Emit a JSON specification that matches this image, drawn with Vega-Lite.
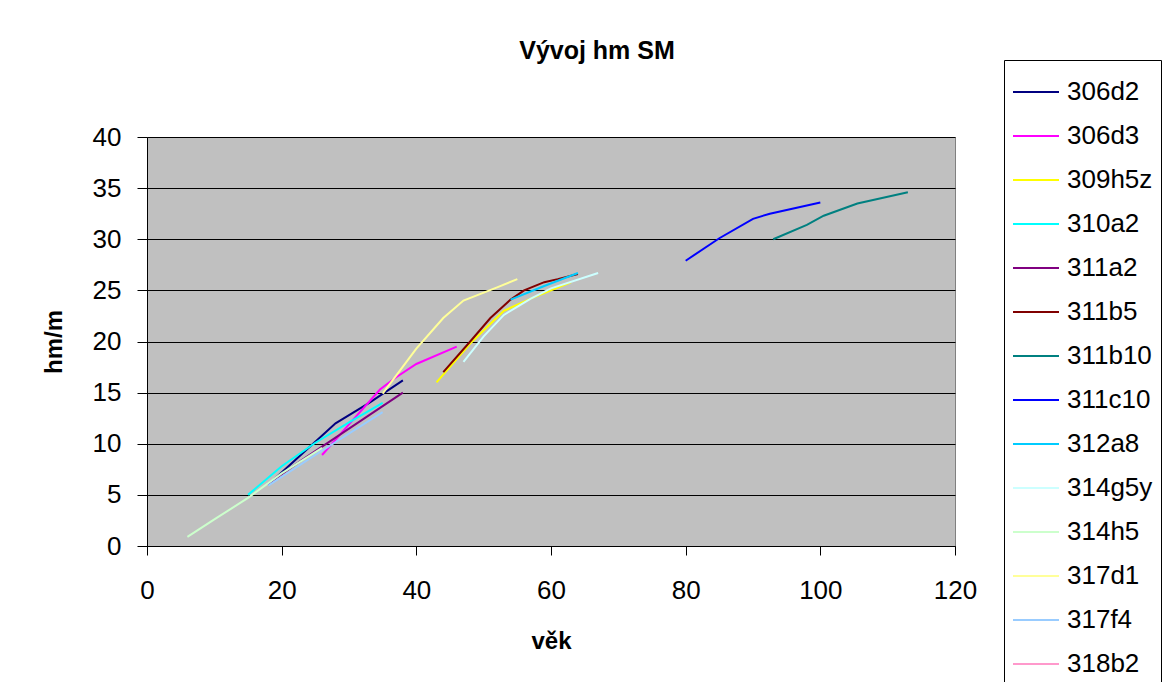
{
  "$schema": "https://vega.github.io/schema/vega-lite/v6.json",
  "width": 808,
  "height": 409,
  "autosize": {"type": "none"},
  "padding": {"left": 147, "top": 137, "right": 219, "bottom": 136},
  "background": "white",
  "title": {
    "text": "Vývoj hm SM",
    "anchor": "middle",
    "frame": "group",
    "dx": 46,
    "offset": -4,
    "font": "Liberation Sans",
    "fontSize": 25,
    "fontWeight": "bold",
    "color": "black"
  },
  "data": {
    "values": [
      {"s": "306d2", "v": 18, "h": 6.0},
      {"s": "306d2", "v": 23, "h": 9.0},
      {"s": "306d2", "v": 28, "h": 12.0},
      {"s": "306d2", "v": 33, "h": 14.0},
      {"s": "306d2", "v": 38, "h": 16.2},
      {"s": "306d3", "v": 26, "h": 8.9},
      {"s": "306d3", "v": 30, "h": 11.9},
      {"s": "306d3", "v": 34.6, "h": 15.3},
      {"s": "306d3", "v": 37, "h": 16.5},
      {"s": "306d3", "v": 40, "h": 17.8},
      {"s": "306d3", "v": 46, "h": 19.5},
      {"s": "309h5z", "v": 43, "h": 16.0},
      {"s": "309h5z", "v": 48, "h": 19.8},
      {"s": "309h5z", "v": 53, "h": 23.0},
      {"s": "309h5z", "v": 57, "h": 24.2},
      {"s": "309h5z", "v": 60, "h": 25.0},
      {"s": "309h5z", "v": 63, "h": 25.8},
      {"s": "310a2", "v": 15, "h": 5.0},
      {"s": "310a2", "v": 20, "h": 7.8},
      {"s": "310a2", "v": 25, "h": 10.1},
      {"s": "310a2", "v": 30, "h": 12.1},
      {"s": "310a2", "v": 35, "h": 14.0},
      {"s": "311a2", "v": 18, "h": 6.1},
      {"s": "311a2", "v": 23, "h": 8.4},
      {"s": "311a2", "v": 28, "h": 10.6},
      {"s": "311a2", "v": 33, "h": 12.8},
      {"s": "311a2", "v": 38, "h": 15.0},
      {"s": "311b5", "v": 44, "h": 17.0},
      {"s": "311b5", "v": 48, "h": 20.0},
      {"s": "311b5", "v": 51, "h": 22.3},
      {"s": "311b5", "v": 54, "h": 24.1},
      {"s": "311b5", "v": 56, "h": 25.0},
      {"s": "311b5", "v": 59, "h": 25.8},
      {"s": "311b5", "v": 61, "h": 26.1},
      {"s": "311b5", "v": 64, "h": 26.6},
      {"s": "311b10", "v": 93, "h": 30.0},
      {"s": "311b10", "v": 98, "h": 31.4},
      {"s": "311b10", "v": 100.5, "h": 32.3},
      {"s": "311b10", "v": 105.5, "h": 33.5},
      {"s": "311b10", "v": 113, "h": 34.6},
      {"s": "311c10", "v": 80, "h": 27.9},
      {"s": "311c10", "v": 85, "h": 30.1},
      {"s": "311c10", "v": 90, "h": 32.0},
      {"s": "311c10", "v": 92.5, "h": 32.5},
      {"s": "311c10", "v": 100, "h": 33.6},
      {"s": "312a8", "v": 54, "h": 24.1},
      {"s": "312a8", "v": 58.9, "h": 25.4},
      {"s": "312a8", "v": 64, "h": 26.7},
      {"s": "314g5y", "v": 47, "h": 18.0},
      {"s": "314g5y", "v": 50, "h": 20.5},
      {"s": "314g5y", "v": 53, "h": 22.6},
      {"s": "314g5y", "v": 57, "h": 24.2},
      {"s": "314g5y", "v": 60, "h": 25.2},
      {"s": "314g5y", "v": 67, "h": 26.7},
      {"s": "314h5", "v": 6, "h": 0.9},
      {"s": "314h5", "v": 10, "h": 2.6},
      {"s": "314h5", "v": 15, "h": 4.7},
      {"s": "314h5", "v": 20, "h": 7.1},
      {"s": "314h5", "v": 26, "h": 9.6},
      {"s": "317d1", "v": 35, "h": 14.9},
      {"s": "317d1", "v": 40, "h": 19.3},
      {"s": "317d1", "v": 44, "h": 22.3},
      {"s": "317d1", "v": 47, "h": 24.0},
      {"s": "317d1", "v": 52, "h": 25.3},
      {"s": "317d1", "v": 55, "h": 26.1},
      {"s": "317f4", "v": 18, "h": 5.9},
      {"s": "317f4", "v": 25, "h": 8.9},
      {"s": "317f4", "v": 35, "h": 13.1}
    ]
  },
  "mark": {"type": "line", "strokeWidth": 2},
  "encoding": {
    "x": {
      "field": "v",
      "type": "quantitative",
      "title": "věk",
      "scale": {"domain": [0, 120], "nice": false},
      "axis": {
        "values": [0, 20, 40, 60, 80, 100, 120],
        "grid": false,
        "labelFlush": false,
        "labelOverlap": false,
        "domainColor": "black",
        "tickColor": "black",
        "tickSize": 9,
        "labelFont": "Liberation Sans",
        "labelFontSize": 26,
        "labelColor": "black",
        "labelPadding": 22,
        "titleFont": "Liberation Sans",
        "titleFontSize": 24,
        "titleFontWeight": "bold",
        "titleColor": "black",
        "titlePadding": 26
      }
    },
    "y": {
      "field": "h",
      "type": "quantitative",
      "title": "hm/m",
      "scale": {"domain": [0, 40], "nice": false},
      "axis": {
        "values": [0, 5, 10, 15, 20, 25, 30, 35, 40],
        "grid": true,
        "labelFlush": false,
        "labelOverlap": false,
        "gridColor": "black",
        "gridOpacity": 1,
        "domainColor": "black",
        "tickColor": "black",
        "tickSize": 10,
        "labelFont": "Liberation Sans",
        "labelFontSize": 26,
        "labelColor": "black",
        "labelPadding": 16,
        "titleFont": "Liberation Sans",
        "titleFontSize": 24,
        "titleFontWeight": "bold",
        "titleColor": "black",
        "titlePadding": 26
      }
    },
    "color": {
      "field": "s",
      "type": "nominal",
      "sort": null,
      "scale": {
        "domain": ["306d2", "306d3", "309h5z", "310a2", "311a2", "311b5", "311b10", "311c10", "312a8", "314g5y", "314h5", "317d1", "317f4", "318b2"],
        "range": ["#000080", "#FF00FF", "#FFFF00", "#00FFFF", "#800080", "#800000", "#008080", "#0000FF", "#00CCFF", "#CCFFFF", "#CCFFCC", "#FFFF99", "#99CCFF", "#FF99CC"]
      },
      "legend": {
        "title": null,
        "orient": "none",
        "legendX": 857,
        "legendY": -77,
        "direction": "vertical",
        "strokeColor": "black",
        "fillColor": "white",
        "padding": 8,
        "symbolType": "stroke",
        "symbolSize": 2116,
        "symbolStrokeWidth": 2,
        "labelFont": "Liberation Sans",
        "labelFontSize": 26,
        "labelColor": "black",
        "labelOffset": 7,
        "rowPadding": 7
      }
    }
  },
  "config": {
    "view": {"fill": "#C0C0C0", "stroke": "#808080", "strokeWidth": 1}
  }
}
